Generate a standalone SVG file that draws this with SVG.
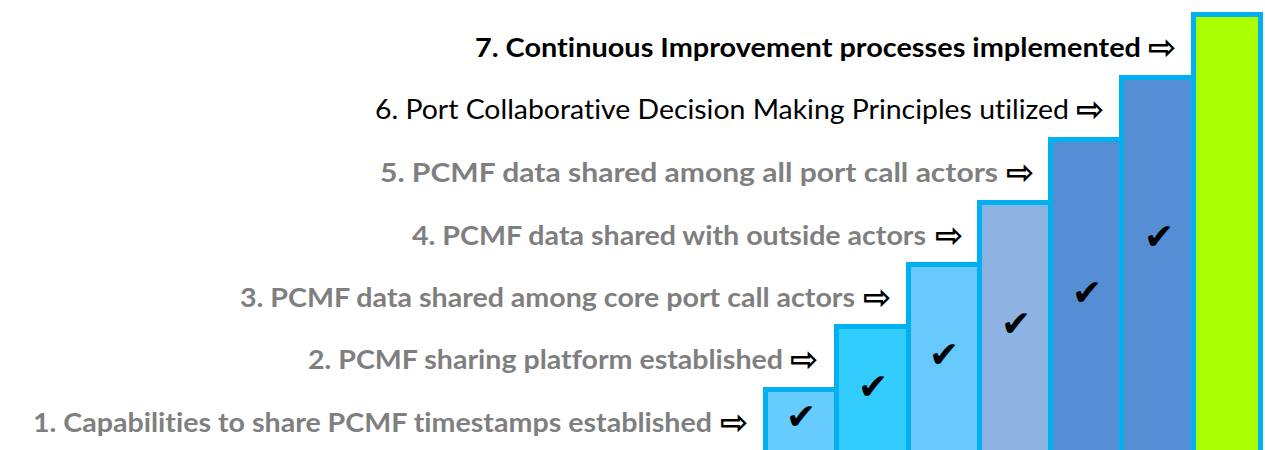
<svg xmlns="http://www.w3.org/2000/svg" width="1265" height="450" viewBox="0 0 1265 450">
  <style>
    .lbl { font-family: Lato, "Liberation Sans", sans-serif; font-size: 26px; font-weight: 700; fill: #7f7f7f; font-variant-ligatures: none; }
    .dark { fill: #000000; }
    .reg { font-weight: 400; }
    .arr { font-family: "DejaVu Sans", sans-serif; font-size: 34px; font-weight: 700; fill: #000000; }
    .chk { font-family: "DejaVu Sans", sans-serif; font-size: 36px; fill: #000000; text-anchor: middle; dominant-baseline: central; }
    .step { stroke: #00b0f0; stroke-width: 5; }
  </style>
  <rect width="1265" height="450" fill="#ffffff"/>

  <!-- staircase steps, lowest to highest -->
  <g id="step1"><rect class="step" x="765.5" y="389.5" width="71" height="70" fill="#66ccff"/><text class="chk" x="801" y="416">✔</text></g>
  <g id="step2"><rect class="step" x="836.5" y="326.5" width="72" height="133" fill="#33ccff"/><text class="chk" x="873" y="386">✔</text></g>
  <g id="step3"><rect class="step" x="908.5" y="264.5" width="71" height="195" fill="#66c8fb"/><text class="chk" x="944" y="354">✔</text></g>
  <g id="step4"><rect class="step" x="979.5" y="202.5" width="71" height="257" fill="#8db3e2"/><text class="chk" x="1016" y="323">✔</text></g>
  <g id="step5"><rect class="step" x="1050.5" y="139.5" width="71" height="320" fill="#558ed5"/><text class="chk" x="1087" y="292">✔</text></g>
  <g id="step6"><rect class="step" x="1121.5" y="77.5" width="72" height="382" fill="#558ed5"/><text class="chk" x="1159" y="236">✔</text></g>
  <g id="step7"><rect class="step" x="1193.5" y="14.5" width="67" height="445" fill="#aaff00"/></g>

  <!-- level labels with pointer arrows -->
  <g id="label1"><text class="lbl" x="33" y="432" textLength="679" lengthAdjust="spacingAndGlyphs">1. Capabilities to share PCMF timestamps established</text><text class="arr" x="720" y="434">⇨</text></g>
  <g id="label2"><text class="lbl" x="308" y="369" textLength="475" lengthAdjust="spacingAndGlyphs">2. PCMF sharing platform established</text><text class="arr" x="790" y="371">⇨</text></g>
  <g id="label3"><text class="lbl" x="240" y="307" textLength="615" lengthAdjust="spacingAndGlyphs">3. PCMF data shared among core port call actors</text><text class="arr" x="863" y="309">⇨</text></g>
  <g id="label4"><text class="lbl" x="412" y="245" textLength="514" lengthAdjust="spacingAndGlyphs">4. PCMF data shared with outside actors</text><text class="arr" x="935" y="247">⇨</text></g>
  <g id="label5"><text class="lbl" x="380" y="182" textLength="618" lengthAdjust="spacingAndGlyphs">5. PCMF data shared among all port call actors</text><text class="arr" x="1006" y="184">⇨</text></g>
  <g id="label6"><text class="lbl dark reg" x="375" y="119" textLength="694" lengthAdjust="spacingAndGlyphs">6. Port Collaborative Decision Making Principles utilized</text><text class="arr" x="1076" y="121">⇨</text></g>
  <g id="label7"><text class="lbl dark" x="475" y="57" textLength="666" lengthAdjust="spacingAndGlyphs">7. Continuous Improvement processes implemented</text><text class="arr" x="1148" y="59">⇨</text></g>
</svg>
